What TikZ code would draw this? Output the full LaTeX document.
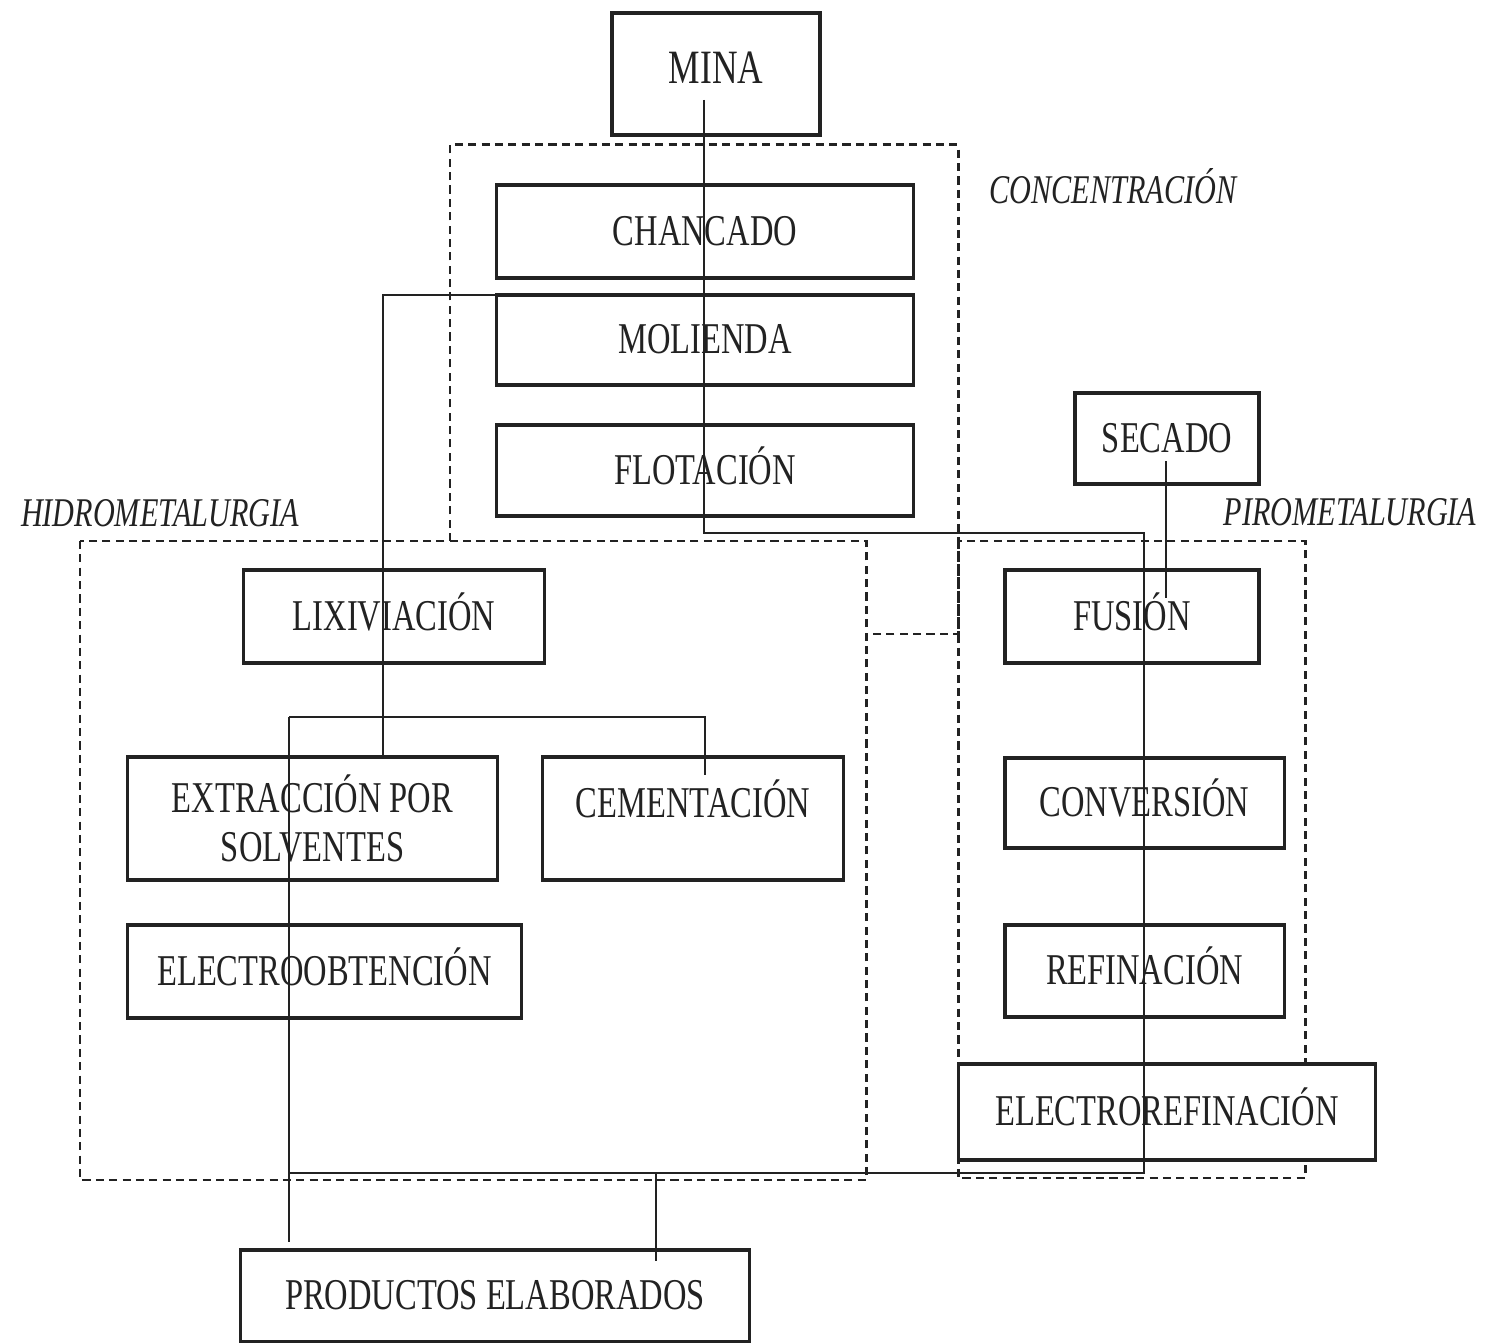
\documentclass[tikz,border=0pt]{standalone}
\usepackage{fontspec}
\setmainfont{Liberation Serif}[FakeStretch=0.74]
\usetikzlibrary{calc}
\definecolor{ink}{HTML}{222222}
\tikzset{
  box/.style={draw=ink, line width=0.9pt, rectangle, inner sep=0pt, align=center,
    font=\fontsize{12.5}{13.7}\selectfont, text=ink},
  sbox/.style={box, text height=0.3cm, text depth=0.03cm},
  conn/.style={draw=ink, line width=0.65pt},
  region/.style={draw=ink, line width=0.85pt, dash pattern=on 2.3pt off 1.5pt},
  regionlabel/.style={font=\fontsize{11.6}{13}\selectfont\itshape, text=ink, inner sep=0pt},
}
\begin{document}
\begin{tikzpicture}[x=0.01cm, y=-0.01cm]
\fill[white] (0,0) rectangle (1493,1343);
\useasboundingbox (0,0) rectangle (1493,1343);

% dashed regions
\draw[region] (450,541) -- (450,145) -- (958,145) -- (958,634) -- (866,634);
\draw[region] (80,541) rectangle (866,1180);
\draw[region] (958,541) rectangle (1305,1178);

% region labels
\node[regionlabel] (lconc) at (1113,186) {CONCENTRACIÓN};
\node[regionlabel] (lhidro) at (160,513) {HIDROMETALURGIA};
\node[regionlabel] (lpiro) at (1350,512) {PIROMETALURGIA};

% boxes
\node[box, minimum width=2.08cm, minimum height=1.22cm, text height=0.32cm, text depth=0.12cm,
      font=\fontsize{13.6}{15}\selectfont] (mina) at (716,74) {MINA};
\node[sbox, minimum width=4.16cm, minimum height=0.93cm] (chan) at (705,231.5) {CHANCADO};
\node[sbox, minimum width=4.16cm, minimum height=0.90cm] (mol) at (705,340) {MOLIENDA};
\node[sbox, minimum width=4.16cm, minimum height=0.91cm] (flot) at (705,470.5) {FLOTACIÓN};
\node[sbox, minimum width=1.84cm, minimum height=0.91cm] (sec) at (1167,438.5) {SECADO};
\node[sbox, minimum width=3.00cm, minimum height=0.93cm] (lix) at (394,616.5) {LIXIVIACIÓN};
\node[box, minimum width=3.69cm, minimum height=1.23cm] (ext) at (312.5,818.5) {EXTRACCIÓN POR\\SOLVENTES};
\node[box, minimum width=3.00cm, minimum height=1.23cm, text height=0.3cm, text depth=0.32cm] (cem) at (693,818.5) {CEMENTACIÓN};
\node[sbox, minimum width=3.93cm, minimum height=0.93cm] (eob) at (324.5,971.5) {ELECTROOBTENCIÓN};
\node[sbox, minimum width=2.54cm, minimum height=0.93cm] (fus) at (1132,616.5) {FUSIÓN};
\node[sbox, minimum width=2.79cm, minimum height=0.90cm] (conv) at (1144.5,803) {CONVERSIÓN};
\node[sbox, minimum width=2.79cm, minimum height=0.92cm] (ref) at (1144.5,971) {REFINACIÓN};
\node[sbox, fill=white, minimum width=4.16cm, minimum height=0.96cm] (eref) at (1167,1112) {ELECTROREFINACIÓN};
\node[sbox, minimum width=5.08cm, minimum height=0.92cm] (prod) at (495,1296) {PRODUCTOS ELABORADOS};

% junction coordinates
\coordinate (t1) at (704,533);
\coordinate (t2) at (1144,533);
\coordinate (b2) at (1144,1173);
\coordinate (b1) at (289,1173);
\coordinate (h0) at (704,295);
\coordinate (h1) at (383,295);
\coordinate (br1) at (289,717);
\coordinate (br2) at (705,717);
\coordinate (pj) at (656,1173);

% connectors
\draw[conn] ($(mina.center)+(-12,26)$) -- (t1) -- (t2) -- (b2) -- (b1);
\draw[conn] (h0) -- (h1) -- ($(h1 |- ext.north)+(0,3)$);
\draw[conn] (br1) -- (br2) -- ($(br2 |- cem.north)+(0,20)$);
\draw[conn] (br1) -- ($(br1 |- prod.north)+(0,-6)$);
\draw[conn] (pj) -- ($(pj |- prod.north)+(0,13)$);
\draw[conn] ($(sec.center)+(-1,23)$) -- ($(fus.center)+(34,-18)$);
\end{tikzpicture}
\end{document}
